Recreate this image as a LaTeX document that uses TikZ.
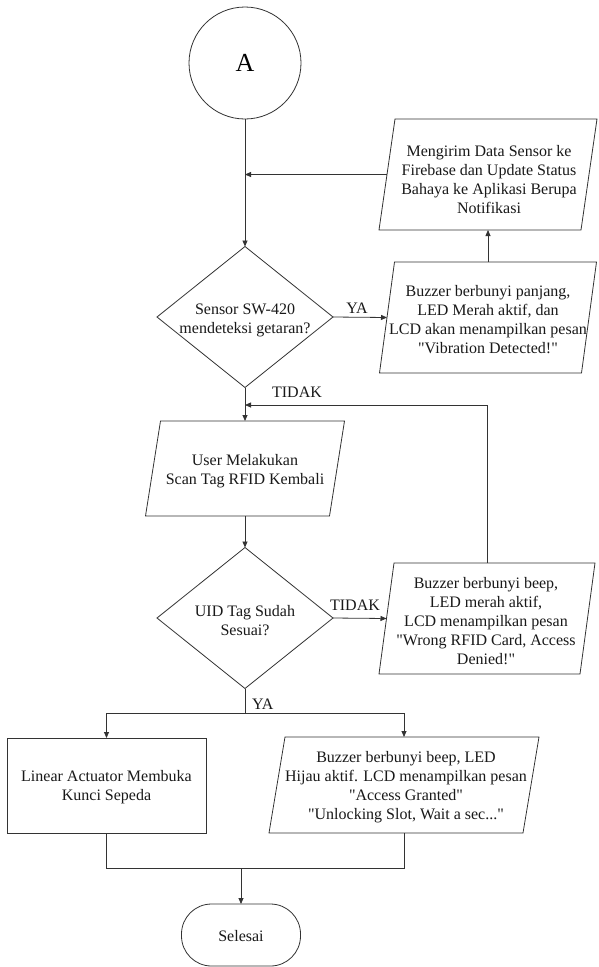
\documentclass[tikz,border=0pt]{standalone}
\usepackage{fontspec}
\setmainfont{Liberation Serif}[Ligatures=NoCommon]
\newfontfamily\tnr{Liberation Serif}
\usetikzlibrary{arrows.meta,shapes.geometric}
\newcommand\dq{\char34\relax}
\tikzset{
  ln/.style={draw=black!80, line width=0.8pt},
  arr/.style={ln, -{Triangle[length=6pt,width=5pt]}},
  txt/.style={align=center, inner sep=0pt, text=black!90, font=\tnr\fontsize{16}{19}\selectfont},
  lbl/.style={inner sep=0pt, text=black!90, font=\tnr\fontsize{16}{19}\selectfont},
  shp/.style={inner sep=0pt, outer sep=0pt},
  dia/.style={shp, ln, diamond, minimum width=176, minimum height=141},
}
\newcommand\paral[6]{%
  \node[shp, minimum width=#4, minimum height=#5] (#1) at (#2,#3) {};
  \draw[ln] ([xshift=#6/2]#1.north west) -- ([xshift=#6/2]#1.north east) -- ([xshift=-#6/2]#1.south east) -- ([xshift=-#6/2]#1.south west) -- cycle;}
\begin{document}
\begin{tikzpicture}[x=1pt,y=-1pt]
\useasboundingbox[fill=white] (0,0) rectangle (598,967);
% start connector
\node[shp, ln, circle, minimum size=112, font=\tnr\fontsize{26}{30}\selectfont] (A) at (245,63) {A};
% send data
\paral{M}{488}{174.5}{202}{111}{16}
\node[txt] (Mt) at (489,180) {Mengirim Data Sensor ke\\Firebase dan Update Status\\Bahaya ke Aplikasi Berupa\\Notifikasi};
% decision 1
\node[dia] (D1) at (245,317) {};
\node[txt] (D1t) at (245,320) {Sensor SW-420\\mendeteksi getaran?};
% buzzer 1
\paral{B1}{488}{317.5}{202}{111}{15}
\node[txt] (B1t) at (488,320) {Buzzer berbunyi panjang,\\LED Merah aktif, dan\\LCD akan menampilkan pesan\\\dq Vibration Detected!\dq};
% scan
\paral{S}{245}{468.5}{184}{95}{15}
\node[txt] (St) at (245,471) {User Melakukan\\Scan Tag RFID Kembali};
% decision 2
\node[dia] (D2) at (245,618) {};
\node[txt] (D2t) at (245,621) {UID Tag Sudah\\Sesuai?};
% buzzer 2
\paral{B2}{487}{618.5}{201}{111}{15}
\node[txt] (B2t) at (486,621) {Buzzer berbunyi beep,\\LED merah aktif,\\LCD menampilkan pesan\\\dq Wrong RFID Card, Access\\Denied!\dq};
% actuator
\node[shp, ln, minimum width=199, minimum height=95] (R) at (106.5,785.5) {};
\node[txt] (Rt) at (106.5,787) {Linear Actuator Membuka\\Kunci Sepeda};
% buzzer 3
\paral{B3}{404}{785}{254}{96}{16}
\node[txt] (B3t) at (406,787) {Buzzer berbunyi beep, LED\\Hijau aktif. LCD menampilkan pesan\\\dq Access Granted\dq\\\dq Unlocking Slot, Wait a sec...\dq};
% end
\node[shp, ln, rounded corners=30, minimum width=119, minimum height=62] (E) at (241,935) {};
\node[txt] (Et) at (241,936) {Selesai};

% coordinates
\coordinate (j1) at (245,174.5);
\coordinate (j2) at (245,405);
\coordinate (l2) at (487,405);
\coordinate (y2) at (245,713);
\coordinate (yl) at (106.5,713);
\coordinate (yr) at (404,713);
\coordinate (ml) at (106.5,868);
\coordinate (mr) at (404,868);
\coordinate (mm) at (241,868);

% connectors
\draw[arr] (A.south) -- (D1.north);
\draw[arr] (M.west) -- (j1);
\draw[arr] (B1.north) -- (M.south);
\draw[arr] (D1.east) -- (B1.west);
\node[lbl] (ya1) at (357,308) {YA};
\draw[arr] (D1.south) -- (S.north);
\node[lbl] (td1) at (297,392) {TIDAK};
\draw[arr] (S.south) -- (D2.north);
\draw[arr] (D2.east) -- (B2.west);
\node[lbl] (td2) at (355,605) {TIDAK};
\draw[arr] (B2.north) -- (l2) -- (j2);
\draw[ln] (D2.south) -- (y2);
\node[lbl, anchor=west] (ya2) at (252,704) {YA};
\draw[arr] (y2) -- (yl) -- (R.north);
\draw[arr] (y2) -- (yr) -- (B3.north);
\draw[ln] (R.south) -- (ml) -- (mr) -- (B3.south);
\draw[arr] (mm) -- (E.north);
\end{tikzpicture}
\end{document}
